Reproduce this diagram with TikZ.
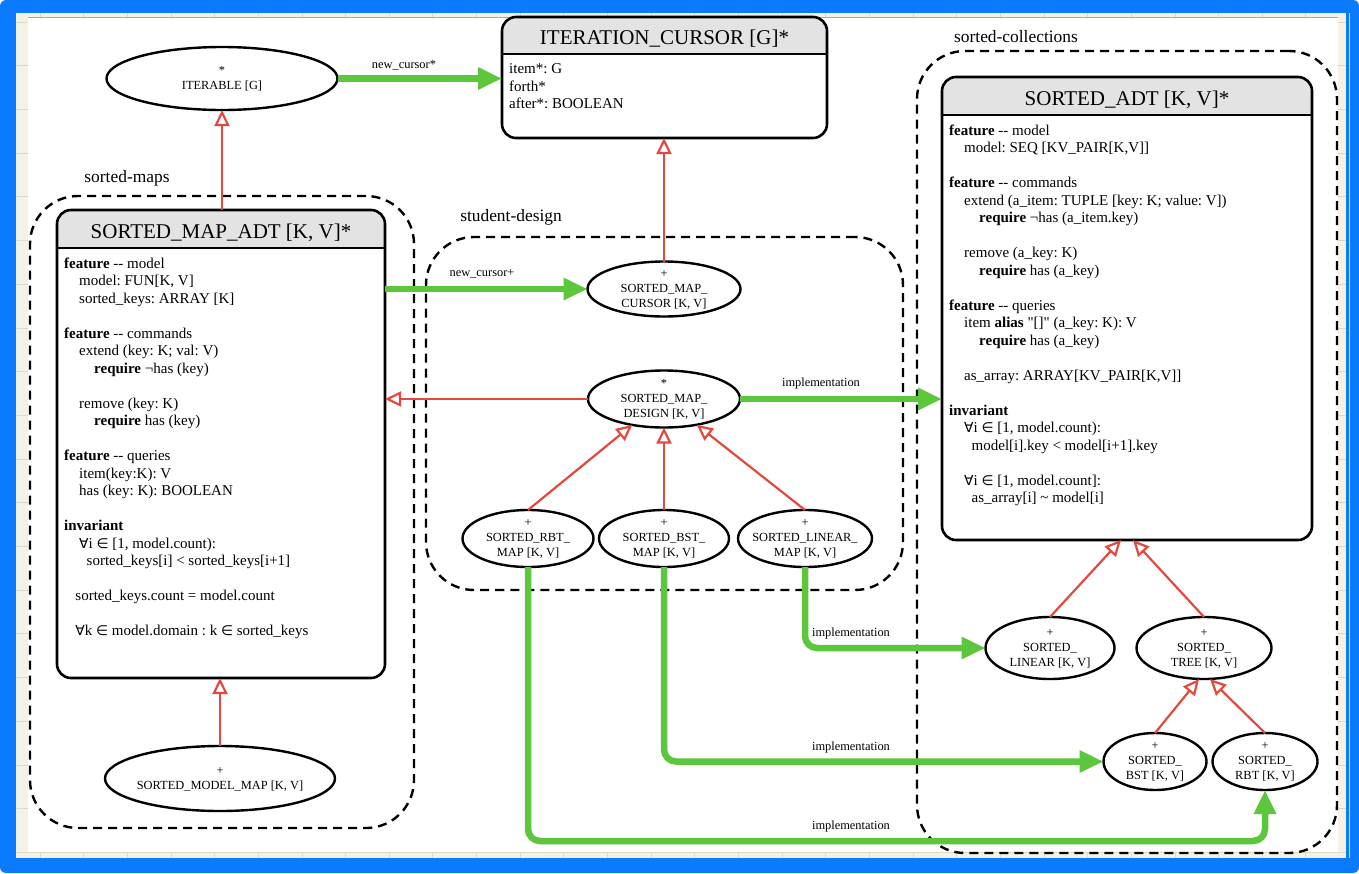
\documentclass[tikz,border=0pt]{standalone}
\usepackage{fontspec}
\setmainfont{Liberation Serif}
\newfontfamily\mathsymfont[Scale=0.92]{DejaVu Sans}
\usetikzlibrary{arrows.meta,shapes.geometric,calc}

\definecolor{frameblue}{HTML}{0A7BFF}
\definecolor{gridcream}{HTML}{F4F2E6}
\definecolor{gridline}{HTML}{DDDACB}
\definecolor{headgray}{HTML}{E3E3E3}
\definecolor{inhred}{HTML}{E2493F}
\definecolor{implgreen}{HTML}{5CC63C}

\newcommand{\indt}[1]{\hspace*{#1pt}}
\newcommand{\fall}{{\mathsymfont ∀}}
\newcommand{\elem}{{\mathsymfont ∈}}
\newcommand{\ellipsetext}[1]{\makebox[0pt]{\smash{\raisebox{-3.1pt}{\begin{tabular}{@{}c@{}}#1\end{tabular}}}}}

\tikzset{
  classbox/.style={rectangle, draw, line width=2.6pt, rounded corners=14pt, inner sep=0pt, outer sep=0pt},
  titletext/.style={font=\fontsize{21}{24}\selectfont, inner sep=0pt},
  bodytext/.style={font=\fontsize{15}{17.5}\selectfont, align=left, inner sep=0pt, execute at begin node=\strut},
  cls/.style={ellipse, draw, line width=2.4pt, fill=white, inner sep=0pt, outer sep=0pt, font=\fontsize{12.4}{15}\selectfont},
  cluster/.style={rectangle, draw, line width=2.4pt, dash pattern=on 9pt off 6pt, rounded corners=48pt, inner sep=0pt, outer sep=0pt},
  grouplabel/.style={font=\fontsize{17.4}{20}\selectfont, inner sep=0pt},
  elabel/.style={font=\fontsize{12.4}{14}\selectfont, inner sep=0pt},
  inherit/.style={draw=inhred, line width=2.2pt, -{Triangle[open, length=16pt, width=15pt, fill=white]}},
  usage/.style={draw=implgreen, line width=6.5pt, rounded corners=12pt, -{Triangle[length=24pt, width=21pt]}}
}

% class box: name, x1, y1, x2, y2, header bottom, title, body
\newcommand{\umlclass}[8]{%
  \fill[white, rounded corners=14pt] (#2,#3) rectangle (#4,#5);
  \begin{scope}
    \clip (#2,#3) rectangle (#4,#6);
    \fill[headgray, rounded corners=14pt] (#2,#3) rectangle (#4,#5);
  \end{scope}
  \draw[line width=2.6pt] (#2,#6) -- (#4,#6);
  \node[classbox, minimum width={#4-#2}, minimum height={#5-#3}] (#1) at ({(#2+#4)/2},{(#3+#5)/2}) {};
  \node[titletext, anchor=base] (#1-title) at ({(#2+#4)/2},{#6-10}) {#7};
  \node[bodytext, anchor=north west] (#1-body) at ({#2+7},{#6+9.5}) {#8};
}

\begin{document}
\frenchspacing
\begin{tikzpicture}[x=1pt, y=-1pt]
\useasboundingbox (0,0) rectangle (1359,873);

% window frame and ruled margin
\fill[frameblue, rounded corners=6pt] (0,0) rectangle (1359,873);
\fill[gridcream] (16,13) rectangle (1346,858);
\foreach \k in {0,...,30} \draw[gridline, line width=0.8pt] ({40+43.65*\k},13) -- ({40+43.65*\k},858);
\foreach \k in {0,...,19} \draw[gridline, line width=0.8pt] (16,{22+43.7*\k}) -- (1346,{22+43.7*\k});
\fill[white] (28,17) rectangle (1338,852);
\draw[gray!70, line width=1pt] (28,17) -- (1338,17);

% clusters
\node[cluster, minimum width=384, minimum height=632] (mapsgroup) at (222,512) {};
\node[cluster, minimum width=477, minimum height=353] (designgroup) at (664.5,413.5) {};
\node[cluster, minimum width=420, minimum height=802] (collgroup) at (1127,452) {};
\node[grouplabel] (l-maps) at (127,178) {sorted-maps};
\node[grouplabel] (l-design) at (511,217) {student-design};
\node[grouplabel] (l-coll) at (1016,37) {sorted-collections};

% class boxes
\umlclass{icur}{502}{17}{827}{138}{54}{ITERATION\_CURSOR [G]*}{%
item*: G\\
forth*\\
after*: BOOLEAN}

\umlclass{smap}{57}{210}{385}{678}{248}{SORTED\_MAP\_ADT [K, V]*}{%
\textbf{feature} -{}- model\\
\indt{15}model: FUN[K, V]\\
\indt{15}sorted\_keys: ARRAY [K]\\[17.5pt]
\textbf{feature} -{}- commands\\
\indt{15}extend (key: K; val: V)\\
\indt{30}\textbf{require} ¬has (key)\\[17.5pt]
\indt{15}remove (key: K)\\
\indt{30}\textbf{require} has (key)\\[17.5pt]
\textbf{feature} -{}- queries\\
\indt{15}item(key:K): V\\
\indt{15}has (key: K): BOOLEAN\\[17.5pt]
\textbf{invariant}\\
\indt{15}\fall i \elem{} [1, model.count):\\
\indt{22.5}sorted\_keys[i] < sorted\_keys[i+1]\\[17.5pt]
\indt{11.25}sorted\_keys.count = model.count\\[17.5pt]
\indt{11.25}\fall k \elem{} model.domain : k \elem{} sorted\_keys}

\umlclass{sadt}{942}{77}{1312}{540}{115}{SORTED\_ADT [K, V]*}{%
\textbf{feature} -{}- model\\
\indt{15}model: SEQ [KV\_PAIR[K,V]]\\[17.5pt]
\textbf{feature} -{}- commands\\
\indt{15}extend (a\_item: TUPLE [key: K; value: V])\\
\indt{30}\textbf{require} ¬has (a\_item.key)\\[17.5pt]
\indt{15}remove (a\_key: K)\\
\indt{30}\textbf{require} has (a\_key)\\[17.5pt]
\textbf{feature} -{}- queries\\
\indt{15}item \textbf{alias} \textquotedbl[]\textquotedbl{} (a\_key: K): V\\
\indt{30}\textbf{require} has (a\_key)\\[17.5pt]
\indt{15}as\_array: ARRAY[KV\_PAIR[K,V]]\\[17.5pt]
\textbf{invariant}\\
\indt{15}\fall i \elem{} [1, model.count):\\
\indt{22.5}model[i].key < model[i+1].key\\[17.5pt]
\indt{15}\fall i \elem{} [1, model.count]:\\
\indt{22.5}as\_array[i] \textasciitilde{} model[i]}

% classes drawn as ellipses
\node[cls, minimum width=231, minimum height=63] (iter) at (222,78.5) {\ellipsetext{*\\ITERABLE [G]}};
\node[cls, minimum width=230, minimum height=65] (smm) at (220,778.5) {\ellipsetext{+\\SORTED\_MODEL\_MAP [K, V]}};
\node[cls, minimum width=153, minimum height=55] (cursor) at (664,289) {\ellipsetext{+\\SORTED\_MAP\_\\CURSOR [K, V]}};
\node[cls, minimum width=152, minimum height=57] (design) at (664,399) {\ellipsetext{*\\SORTED\_MAP\_\\DESIGN [K, V]}};
\node[cls, minimum width=131, minimum height=57] (rbt) at (528,538.5) {\ellipsetext{+\\SORTED\_RBT\_\\MAP [K, V]}};
\node[cls, minimum width=130, minimum height=57] (bst) at (664,538.5) {\ellipsetext{+\\SORTED\_BST\_\\MAP [K, V]}};
\node[cls, minimum width=134, minimum height=57] (lin) at (805,538.5) {\ellipsetext{+\\SORTED\_LINEAR\_\\MAP [K, V]}};
\node[cls, minimum width=129, minimum height=62] (slin) at (1050,648) {\ellipsetext{+\\SORTED\_\\LINEAR [K, V]}};
\node[cls, minimum width=135, minimum height=62] (stree) at (1204,648) {\ellipsetext{+\\SORTED\_\\TREE [K, V]}};
\node[cls, minimum width=103, minimum height=57] (sbst) at (1155,761.5) {\ellipsetext{+\\SORTED\_\\BST [K, V]}};
\node[cls, minimum width=105, minimum height=57] (srbt) at (1265,761.5) {\ellipsetext{+\\SORTED\_\\RBT [K, V]}};

% inheritance
\draw[inherit] (iter.south |- smap.north) -- (iter.south);
\draw[inherit] (smm.north) -- (smm.north |- smap.south);
\draw[inherit] (cursor.north) -- (cursor.north |- icur.south);
\draw[inherit] (design.west) -- (design.west -| smap.east);
\draw[inherit] (rbt.north) -- (design);
\draw[inherit] (bst.north) -- (design.south);
\draw[inherit] (lin.north) -- (design);
\draw[inherit] (slin.north) -- ($(sadt.south)+(-6,0)$);
\draw[inherit] (stree.north) -- ($(sadt.south)+(6,0)$);
\draw[inherit] (sbst.north) -- ($(stree.south)+(-5,0)$);
\draw[inherit] (srbt.north) -- ($(stree.south)+(6,0)$);

% client / implementation links
\coordinate (rail) at (0,841);
\draw[usage] (iter.east) -- (iter.east -| icur.west);
\draw[usage] (cursor.west -| smap.east) -- (cursor.west);
\draw[usage] (design.east) -- (design.east -| sadt.west);
\draw[usage] (lin.south) |- (slin.west);
\draw[usage] (bst.south) |- (sbst.west);
\draw[usage] (rbt.south) -- (rbt.south |- rail) -- (srbt.south |- rail) -- (srbt.south);

\node[elabel] (l-newcur) at (404,65) {new\_cursor*};
\node[elabel] (l-newcurp) at (482,274) {new\_cursor+};
\node[elabel] (l-impl1) at (821,384) {implementation};
\node[elabel] (l-impl2) at (851,634) {implementation};
\node[elabel] (l-impl3) at (851,748) {implementation};
\node[elabel] (l-impl4) at (851,827) {implementation};
\end{tikzpicture}
\end{document}
